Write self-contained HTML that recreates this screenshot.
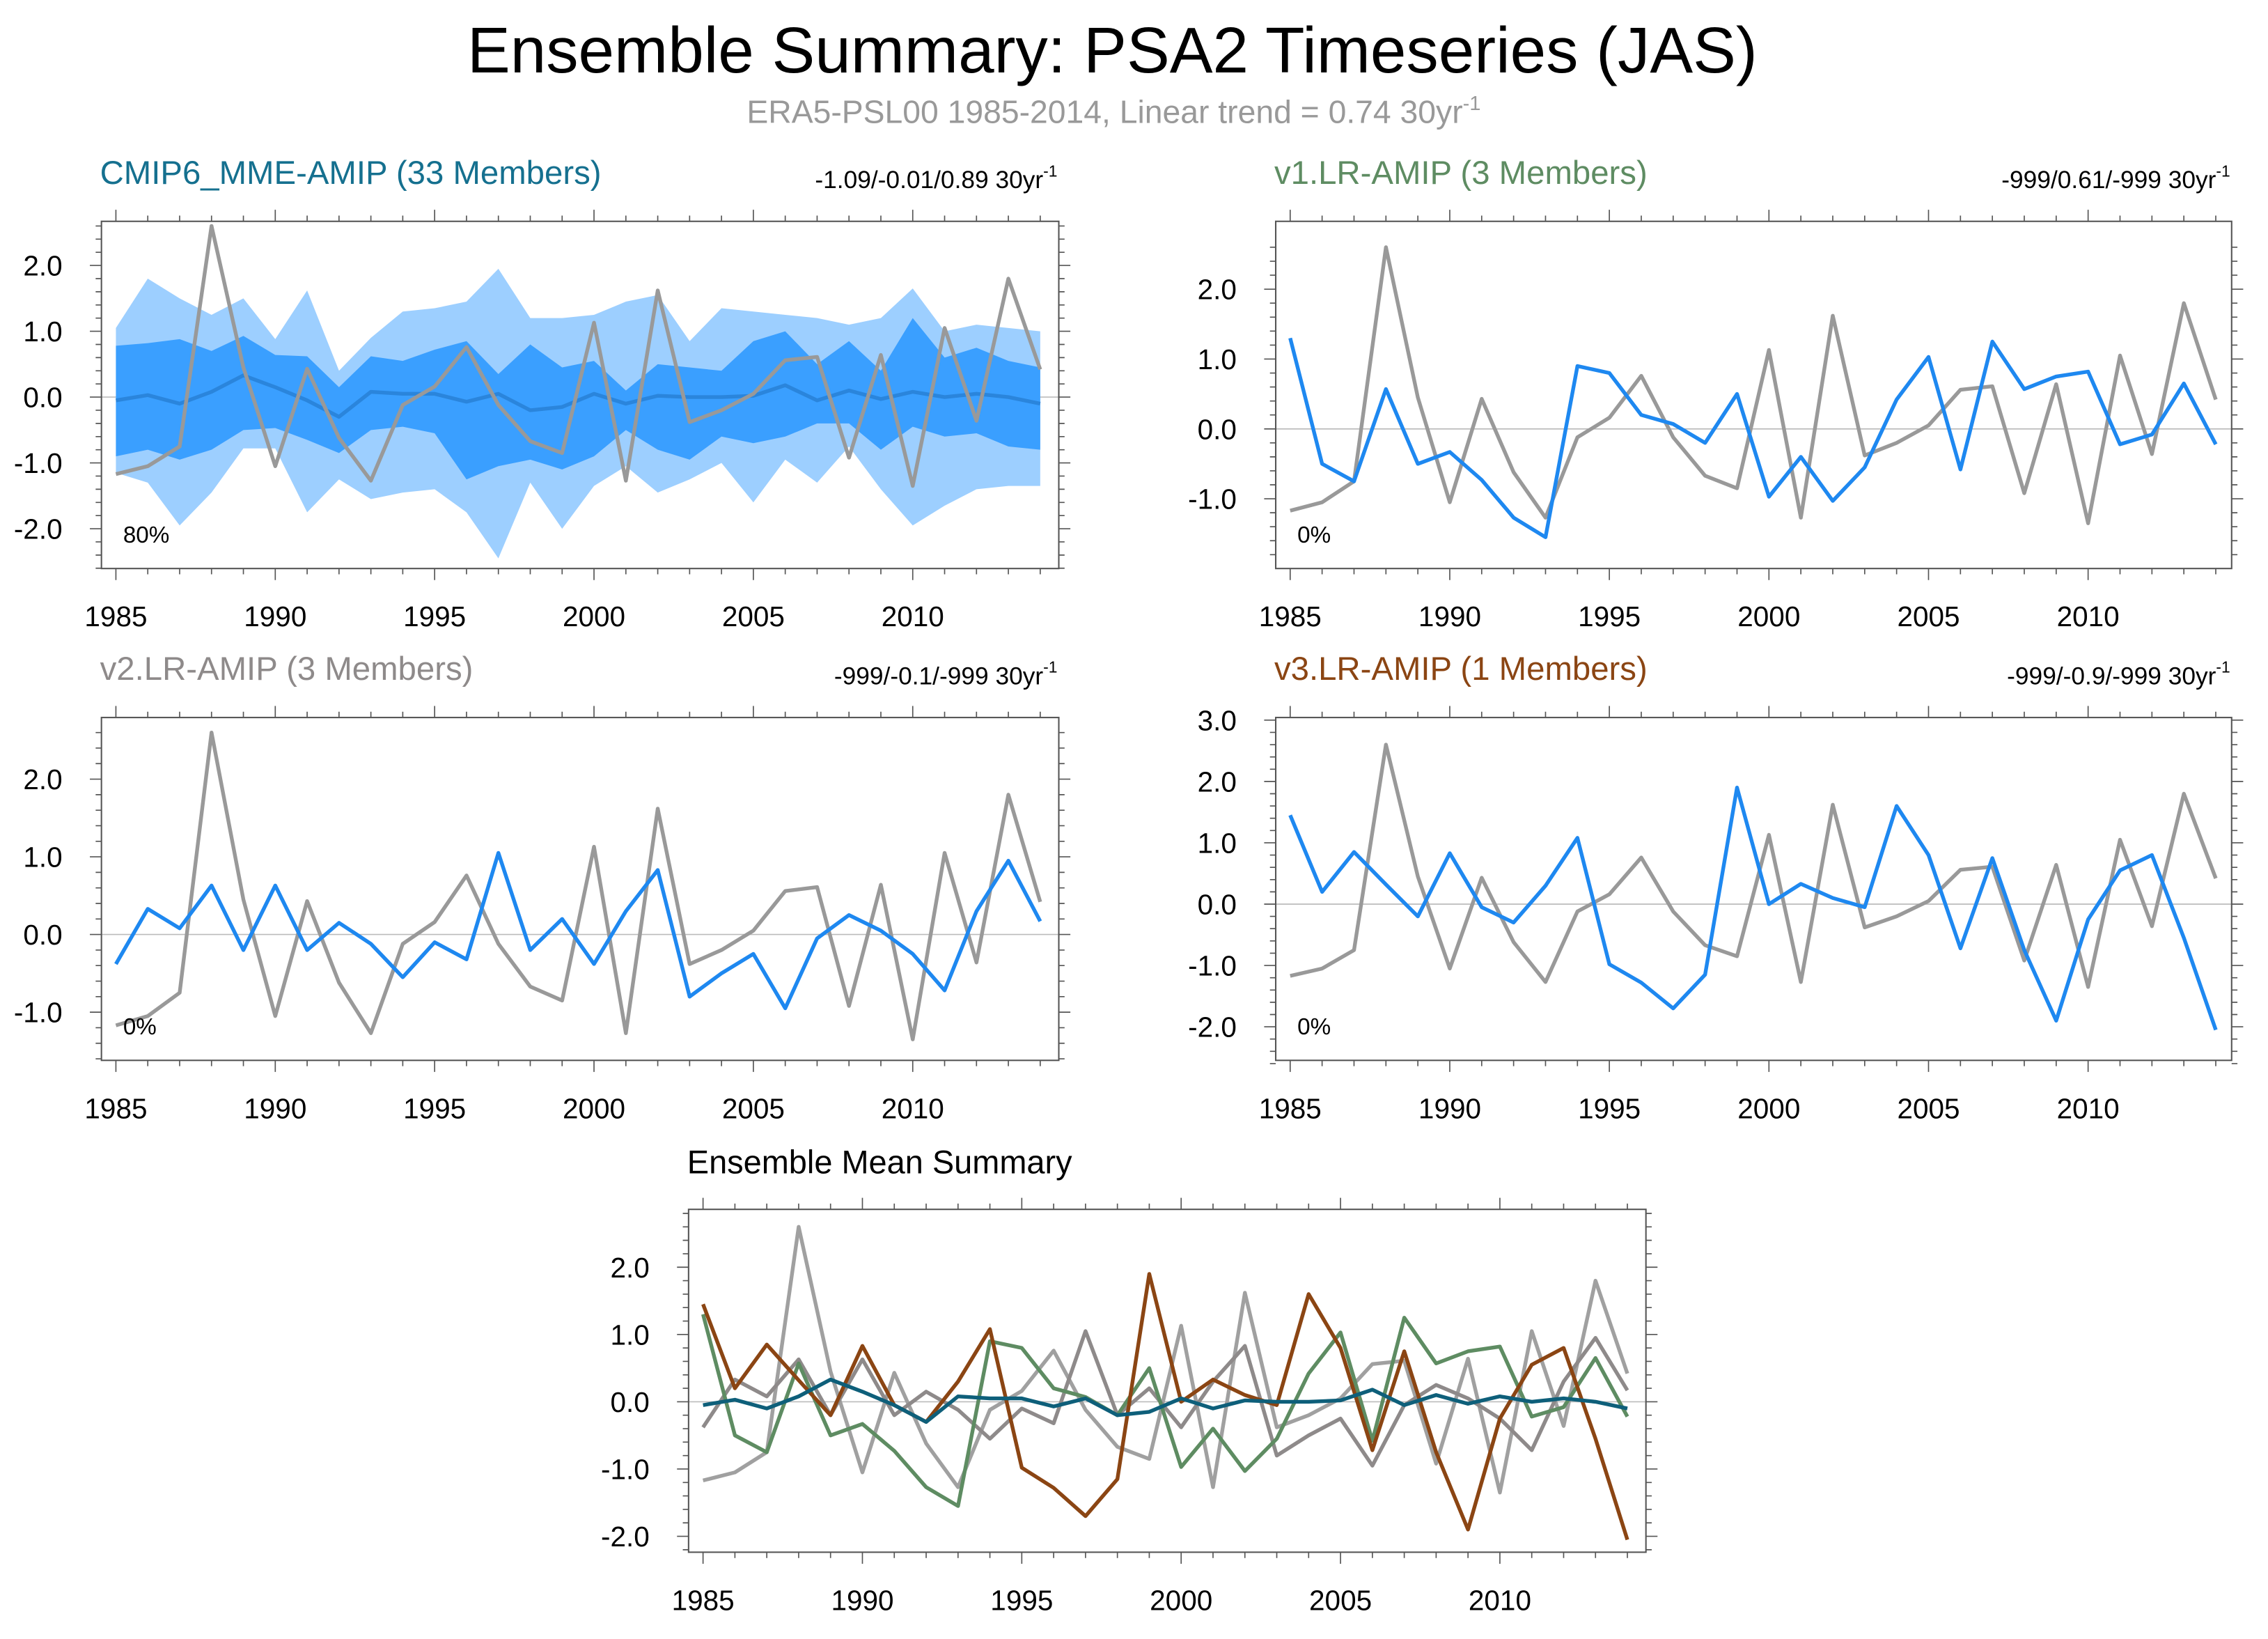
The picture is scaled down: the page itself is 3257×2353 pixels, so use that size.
<!DOCTYPE html>
<html><head><meta charset="utf-8"><title>Ensemble Summary: PSA2 Timeseries (JAS)</title>
<style>html,body{margin:0;padding:0;background:#fff}svg{display:block}text{font-family:"Liberation Sans",Arial,sans-serif}</style>
</head><body>
<svg id="chart" xmlns="http://www.w3.org/2000/svg" width="3257" height="2353" viewBox="0 0 1568 1133">
<rect width="1568" height="1133" fill="#fff"/>
<text x="769" y="50" font-size="44.6" text-anchor="middle" fill="#000">Ensemble Summary: PSA2 Timeseries (JAS)</text>
<text x="770" y="85" font-size="22.3" text-anchor="middle" fill="#999">ERA5-PSL00 1985-2014, Linear trend = 0.74 30yr<tspan dy="-9" font-size="14">-1</tspan></text>
<g id="plots"></g>
</svg>
<script>
const years = [1985,1986,1987,1988,1989,1990,1991,1992,1993,1994,1995,1996,1997,1998,1999,2000,2001,2002,2003,2004,2005,2006,2007,2008,2009,2010,2011,2012,2013,2014];
const obs = [-1.17,-1.05,-0.75,2.6,0.45,-1.05,0.43,-0.62,-1.27,-0.12,0.16,0.76,-0.12,-0.67,-0.85,1.13,-1.27,1.62,-0.38,-0.2,0.05,0.56,0.61,-0.92,0.64,-1.35,1.05,-0.36,1.8,0.42];
const mmeMean = [-0.05,0.03,-0.1,0.08,0.33,0.15,-0.05,-0.3,0.08,0.05,0.05,-0.07,0.05,-0.2,-0.15,0.05,-0.1,0.02,0.0,0.0,0.02,0.18,-0.05,0.1,-0.03,0.08,0.0,0.05,0.0,-0.1];
const mmeInnerHi = [0.78,0.82,0.88,0.7,0.93,0.64,0.62,0.15,0.62,0.55,0.72,0.85,0.35,0.8,0.45,0.55,0.1,0.5,0.45,0.4,0.85,1.0,0.5,0.85,0.4,1.2,0.6,0.75,0.55,0.45];
const mmeInnerLo = [-0.9,-0.8,-0.95,-0.8,-0.5,-0.47,-0.65,-0.85,-0.5,-0.45,-0.55,-1.25,-1.05,-0.95,-1.1,-0.9,-0.5,-0.8,-0.95,-0.6,-0.7,-0.6,-0.4,-0.4,-0.8,-0.45,-0.6,-0.55,-0.75,-0.8];
const mmeOuterHi = [1.05,1.8,1.5,1.25,1.5,0.88,1.62,0.4,0.9,1.3,1.35,1.45,1.95,1.2,1.2,1.25,1.45,1.55,0.85,1.35,1.3,1.25,1.2,1.1,1.2,1.65,1.0,1.1,1.05,1.0];
const mmeOuterLo = [-1.15,-1.3,-1.95,-1.45,-0.78,-0.78,-1.75,-1.25,-1.55,-1.45,-1.4,-1.75,-2.45,-1.3,-2.0,-1.35,-1.05,-1.45,-1.25,-1.0,-1.6,-0.95,-1.3,-0.75,-1.4,-1.95,-1.65,-1.4,-1.35,-1.35];
const v1 = [1.3,-0.5,-0.75,0.57,-0.5,-0.33,-0.73,-1.27,-1.55,0.9,0.8,0.2,0.07,-0.2,0.5,-0.97,-0.4,-1.03,-0.55,0.42,1.03,-0.58,1.25,0.57,0.75,0.82,-0.22,-0.08,0.65,-0.22];
const v2 = [-0.38,0.33,0.08,0.63,-0.2,0.63,-0.2,0.15,-0.12,-0.55,-0.1,-0.32,1.05,-0.2,0.2,-0.38,0.3,0.83,-0.8,-0.5,-0.25,-0.95,-0.05,0.25,0.05,-0.25,-0.72,0.3,0.95,0.17];
const v3 = [1.45,0.2,0.85,0.32,-0.2,0.83,-0.05,-0.3,0.3,1.08,-0.98,-1.28,-1.7,-1.15,1.9,0.0,0.33,0.1,-0.05,1.6,0.8,-0.72,0.75,-0.75,-1.9,-0.25,0.55,0.8,-0.55,-2.05];
const xTickLabels = [1985,1990,1995,2000,2005,2010];

const NS = 'http://www.w3.org/2000/svg';
const root = document.getElementById('plots');
function mk(tag, attrs, parent) {
  const e = document.createElementNS(NS, tag);
  for (const k in attrs) e.setAttribute(k, attrs[k]);
  (parent || root).appendChild(e);
  return e;
}
function panel(cfg) {
  const g = mk('g', {});
  
  
  const xs = y => cfg.x0 + (y - 1985) * cfg.dx;
  const ys = v => cfg.yz - v * cfg.dy;
  cfg.xs = xs; cfg.ys = ys; cfg.g = g;
  const L = cfg.left, R = cfg.right, T = cfg.top, B = cfg.bottom;
  const z = mk('line', {x1:L, x2:R, y1:ys(0), y2:ys(0), stroke:'#bbb', 'stroke-width':0.8}, g);
  
  
  if (cfg.bands) cfg.bands(cfg);
  let tk = '';
  for (let y = 1985; y <= 2014; y++) {
    const x = xs(y), len = (y % 5 === 0) ? 8 : 4;
    tk += `M${x},${B}v${len}M${x},${T}v${-len}`;
  }
  for (let i = Math.ceil(cfg.ymin * 5); i <= Math.floor(cfg.ymax * 5); i++) {
    const v = i / 5, yy = ys(v), len = (i % 5 === 0) ? 8 : 4;
    tk += `M${L},${yy}h${-len}M${R},${yy}h${len}`;
  }
  const tp = mk('path', {d: tk, stroke:'#555', 'stroke-width':0.8, fill:'none'}, g);
  
  
  xTickLabels.forEach(y => {
    const t = mk('text', {x: xs(y), y: B + 40, 'font-size': 19.5, 'text-anchor': 'middle'}, g);
    
    
    t.textContent = y;
  });
  cfg.yTicks.forEach(v => {
    const t = mk('text', {x: L - 27, y: ys(v) + 7, 'font-size': 19.5, 'text-anchor': 'end'}, g);
    
    
    t.textContent = v.toFixed(1);
  });
  cfg.series.forEach(s => {
    const p = mk('polyline', {points: s.data.map((v, i) => xs(years[i]) + ',' + ys(v)).join(' '), fill:'none', stroke:s.color, 'stroke-width':s.w || 2.6, 'stroke-linejoin':'round'}, g);
    
    
  });
  const box = mk('rect', {x:L, y:T, width:R-L, height:B-T, fill:'none', stroke:'#555', 'stroke-width':1}, g);
  
  
  if (cfg.title) {
    const t = mk('text', {x: L - 1, y: T - 26, 'font-size': 22.8, fill: cfg.titleColor}, g);
    
    
    t.textContent = cfg.title;
  }
  if (cfg.trend) {
    const t = mk('text', {x: R - 1, y: T - 23, 'font-size': 17, 'text-anchor':'end'}, g);
    
    
    t.textContent = cfg.trend + ' 30yr';
    const s = mk('tspan', {dy: -8, 'font-size': 11}, t);
    s.textContent = '-1';
  }
  if (cfg.pct) {
    const t = mk('text', {x: L + 15, y: B - 18, 'font-size': 16}, g);
    
    
    t.textContent = cfg.pct;
  }
}
function band(cfg, hi, lo, color, name) {
  const pts = hi.map((v, i) => cfg.xs(years[i]) + ',' + cfg.ys(v)).concat(lo.map((v, i) => cfg.xs(years[i]) + ',' + cfg.ys(v)).reverse());
  const p = mk('polygon', {points: pts.join(' '), fill: color}, cfg.g);
  
  
}
const OBS = '#999', BLUE = '#1e88f0';
panel({name:'panel-cmip6-mme', left:70, right:732, top:153, bottom:393, x0:80, dx:22.04, yz:274.5, dy:45.5, ymin:-2.6, ymax:2.6, yTicks:[2,1,0,-1,-2],
  title:'CMIP6_MME-AMIP (33 Members)', titleColor:'#15708f', trend:'-1.09/-0.01/0.89', pct:'80%',
  bands: c => { band(c, mmeOuterHi, mmeOuterLo, '#9dcfff', 'outer-spread-band'); band(c, mmeInnerHi, mmeInnerLo, '#3a9fff', 'inner-spread-band'); },
  series:[{data:mmeMean, color:'#2a85dc', name:'mme-mean-line'}, {data:obs, color:OBS, name:'obs-line'}]});
panel({name:'panel-v1', left:882, right:1543, top:153, bottom:393, x0:892, dx:22.07, yz:296.5, dy:48.3, ymin:-1.8, ymax:2.6, yTicks:[2,1,0,-1],
  title:'v1.LR-AMIP (3 Members)', titleColor:'#5e8c62', trend:'-999/0.61/-999', pct:'0%',
  series:[{data:obs, color:OBS, name:'obs-line'}, {data:v1, color:BLUE, name:'v1-line'}]});
panel({name:'panel-v2', left:70, right:732, top:496, bottom:733, x0:80, dx:22.04, yz:646, dy:53.7, ymin:-1.6, ymax:2.6, yTicks:[2,1,0,-1],
  title:'v2.LR-AMIP (3 Members)', titleColor:'#8e8a8a', trend:'-999/-0.1/-999', pct:'0%',
  series:[{data:obs, color:OBS, name:'obs-line'}, {data:v2, color:BLUE, name:'v2-line'}]});
panel({name:'panel-v3', left:882, right:1543, top:496, bottom:733, x0:892, dx:22.07, yz:625, dy:42.4, ymin:-2.6, ymax:3.0, yTicks:[3,2,1,0,-1,-2],
  title:'v3.LR-AMIP (1 Members)', titleColor:'#8b4513', trend:'-999/-0.9/-999', pct:'0%',
  series:[{data:obs, color:OBS, name:'obs-line'}, {data:v3, color:BLUE, name:'v3-line'}]});
panel({name:'panel-ensemble-mean-summary', left:476, right:1138, top:836, bottom:1073, x0:486, dx:22.04, yz:969, dy:46.5, ymin:-2.2, ymax:2.8, yTicks:[2,1,0,-1,-2],
  series:[{data:obs, color:'#a0a0a0', name:'obs-line'}, {data:v2, color:'#8e8a8a', name:'v2-mean-line'}, {data:v1, color:'#5e8c62', name:'v1-mean-line'}, {data:v3, color:'#8b4513', name:'v3-mean-line'}, {data:mmeMean, color:'#0e5f7a', name:'mme-mean-line'}]});
const st = mk('text', {x: 475, y: 811, 'font-size': 22.6});


st.textContent = 'Ensemble Mean Summary';
</script>
</body></html>
